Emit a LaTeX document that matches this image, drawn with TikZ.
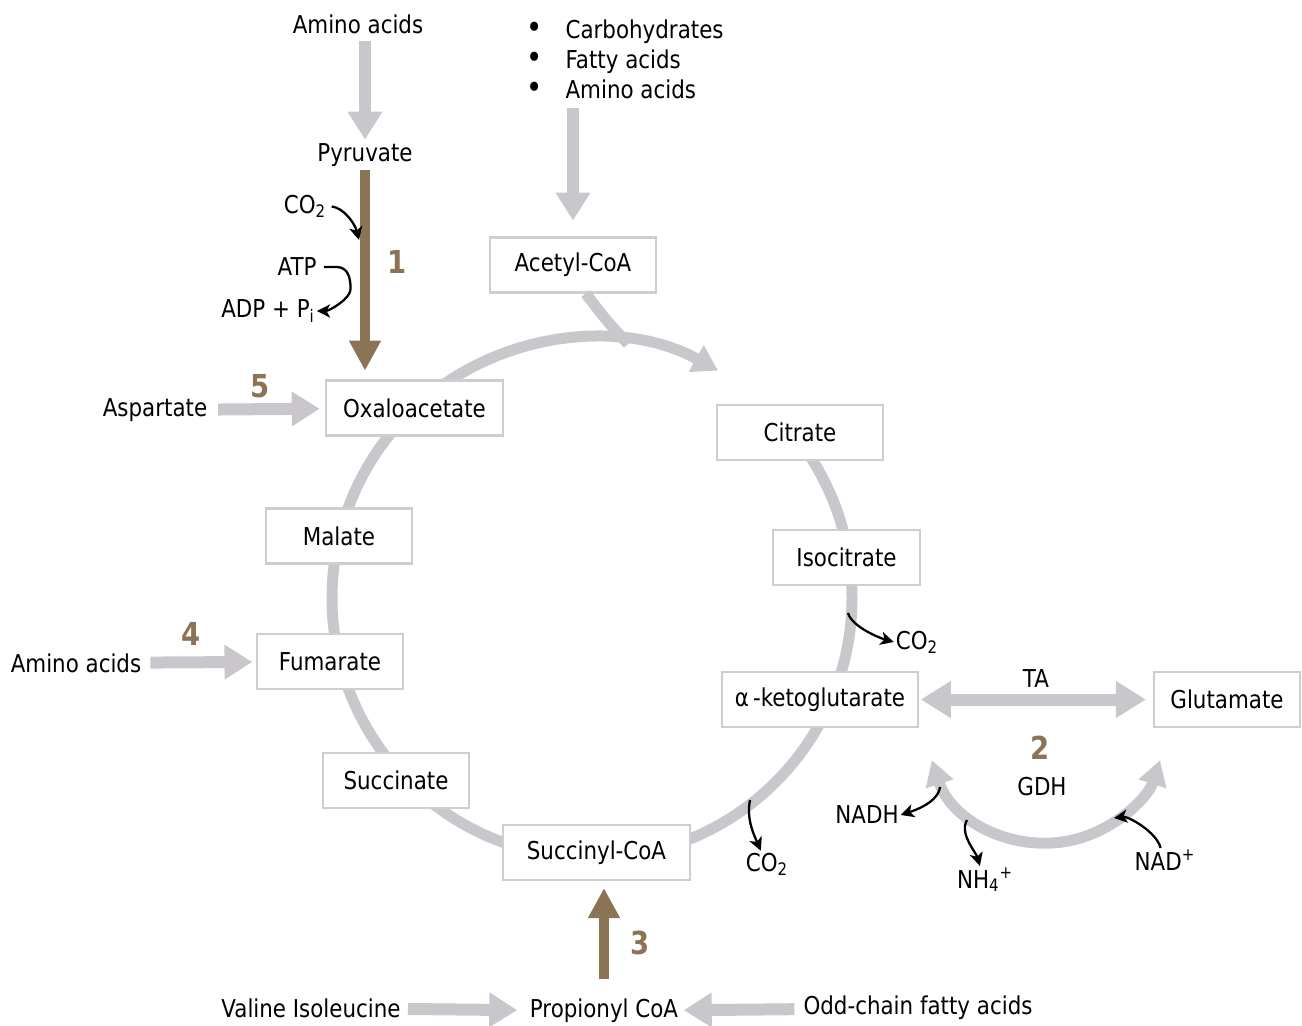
\documentclass[tikz,border=0pt]{standalone}
\usepackage{fontspec}
\setmainfont{DejaVu Sans}[FakeStretch=0.87]
\usepackage{tikz}
\usetikzlibrary{arrows.meta,positioning}
\definecolor{flowgray}{RGB}{201,199,203}
\definecolor{edgegray}{RGB}{206,206,206}
\definecolor{stepbrown}{RGB}{139,116,86}
\newcommand{\listdot}{{\fontsize{18}{17}\selectfont\makebox[0.79cm][l]{•}}}

\begin{document}
\begin{tikzpicture}[x=0.02cm, y=-0.02cm, font=\fontsize{14}{16}\selectfont,
		met/.style={draw=edgegray, line width=1.2pt, fill=white, minimum height=1.1cm, inner sep=0pt},
		lbl/.style={inner sep=1pt},
		num/.style={inner sep=1pt, text=stepbrown, font=\fontsize{18}{20}\selectfont\bfseries},
		flow/.style={draw=flowgray, line width=0.24cm, -{Triangle[width=0.66cm,length=0.56cm]}},
		feed/.style={draw=stepbrown, line width=0.2cm, -{Triangle[width=0.6cm,length=0.6cm]}},
		cyc/.style={draw=flowgray, line width=0.22cm},
		blk/.style={black, line width=1.3pt, -{Stealth[length=7.5pt,width=7.5pt,inset=2pt]}}]
	\useasboundingbox (0,0) rectangle (1302,1025);

	\coordinate (cc) at (592,598);
	\coordinate (gc) at (1046,723);
	\coordinate (join) at (628,344);

	% the cycle
	\draw[cyc, -{Triangle[width=0.58cm,length=0.5cm]}] (cc) ++(-125:260) arc[start angle=-125, end angle=-61, radius=260];
	\draw[cyc] (cc) ++(-45:260) arc[start angle=-45, end angle=235, radius=260];

	\node[lbl] (aatop) at (358,24) {Amino acids};
	\node[lbl] (pyr) at (365,155) {Pyruvate};
	\node[lbl] (co2a) at (305,206) {CO\textsubscript{2}};
	\node[lbl] (atp) at (297,267) {ATP};
	\node[lbl] (adp) at (268,311) {ADP + P\textsubscript{i}};
	\node[num] (n1) at (397,262) {1};

	\node[lbl, anchor=west, align=left, font=\fontsize{14}{17}\selectfont] (sources) at (524,59)
		{\listdot Carbohydrates\\ \listdot Fatty acids\\ \listdot Amino acids};

	\node[met, minimum width=3.32cm] (acetyl) at (573,265) {Acetyl-CoA};
	\node[met, minimum width=3.54cm] (oxa) at (414.5,408) {Oxaloacetate};
	\node[met, minimum width=3.32cm] (cit) at (800,432.5) {Citrate};
	\node[met, minimum width=2.94cm] (iso) at (846.5,557.5) {Isocitrate};
	\node[met, minimum width=3.92cm] (akg) at (820,699.5) {α\,-ketoglutarate};
	\node[met, minimum width=2.92cm] (glu) at (1227,699.5) {Glutamate};
	\node[met, minimum width=3.74cm] (sca) at (596.5,852.5) {Succinyl-CoA};
	\node[met, minimum width=2.92cm] (suc) at (396,780.5) {Succinate};
	\node[met, minimum width=2.92cm] (fum) at (330,661.5) {Fumarate};
	\node[met, minimum width=2.92cm] (mal) at (339,536) {Malate};

	\node[lbl] (asp) at (155,410) {Aspartate};
	\node[num] (n5) at (260,386) {5};
	\node[lbl] (aaleft) at (76,663) {Amino acids};
	\node[num] (n4) at (191,634) {4};
	\node[lbl] (co2b) at (917,642) {CO\textsubscript{2}};
	\node[lbl] (ta) at (1036,679) {TA};
	\node[num] (n2) at (1040,748) {2};
	\node[lbl] (gdh) at (1042,787) {GDH};
	\node[lbl] (nadh) at (867,815) {NADH};
	\node[lbl] (nh4) at (985,880) {NH\textsubscript{4}\textsuperscript{+}};
	\node[lbl] (nad) at (1165,860) {NAD\textsuperscript{+}};
	\node[lbl] (co2c) at (767,864) {CO\textsubscript{2}};
	\node[num] (n3) at (640,943) {3};
	\node[lbl] (prop) at (604,1011) {Propionyl CoA};
	\node[lbl] (valile) at (311,1008) {Valine Isoleucine};
	\node[lbl] (odd) at (918,1008) {Odd-chain fatty acids};

	\coordinate (cin) at (359,240);
	\coordinate (i1) at (848,613);
	\coordinate (s1) at (750,800);
	\coordinate (g1) at (940,787);
	\coordinate (g2) at (967,820);
	\coordinate (g3) at (1114,818);

	\draw[cyc] (acetyl.-66) .. controls (606,320) .. (join);

	\draw[flow, shorten <=3pt, shorten >=1pt] (aatop.south -| pyr) -- (pyr);
	\draw[flow, shorten <=4pt, shorten >=9pt] (sources.south -| acetyl) -- (acetyl);
	\draw[feed, shorten <=1pt, shorten >=5pt] (pyr.south) -- (pyr.south |- oxa.north);
	\draw[flow, shorten <=5pt, shorten >=3pt] (asp) -- (oxa);
	\draw[flow, shorten <=4pt, shorten >=2pt] (aaleft) -- (fum);
	\draw[flow, shorten <=3pt, shorten >=6pt] (valile) -- (prop);
	\draw[flow, shorten <=4pt, shorten >=2pt] (odd) -- (prop);
	\draw[feed, shorten <=10pt, shorten >=4pt] (prop.north) -- (prop.north |- sca.south);
	\draw[draw=flowgray, line width=0.24cm, {Triangle[width=0.7cm,length=0.6cm]}-{Triangle[width=0.7cm,length=0.6cm]}, shorten <=1pt, shorten >=4pt] (akg) -- (glu);
	\draw[cyc, {Triangle[width=0.55cm,length=0.5cm]}-{Triangle[width=0.55cm,length=0.5cm]}] (gc) ++(162:120) arc[start angle=162, end angle=18, radius=120];

	\draw[blk, shorten <=2pt] (co2a.east) .. controls +(16,2) and +(-4,-16) .. (cin);
	\draw[blk, shorten <=3pt] (atp.east) -- ++(18,0) .. controls +(12,0) and +(0,-10) .. ++(14,22) .. controls +(0,10) and +(12,0) .. (adp.east);
	\draw[blk] (i1) .. controls +(4,14) and +(-14,-4) .. (co2b.west);
	\draw[blk] (s1) .. controls +(-4,20) and +(-6,-14) .. (co2c.115);
	\draw[blk] (g1) .. controls +(-2,16) and +(12,-4) .. (nadh.east);
	\draw[blk] (g2) .. controls +(-8,14) and +(-4,-14) .. (nh4.110);
	\draw[blk] (nad.110) .. controls +(-4,-16) and +(14,-2) .. (g3);
\end{tikzpicture}
\end{document}
